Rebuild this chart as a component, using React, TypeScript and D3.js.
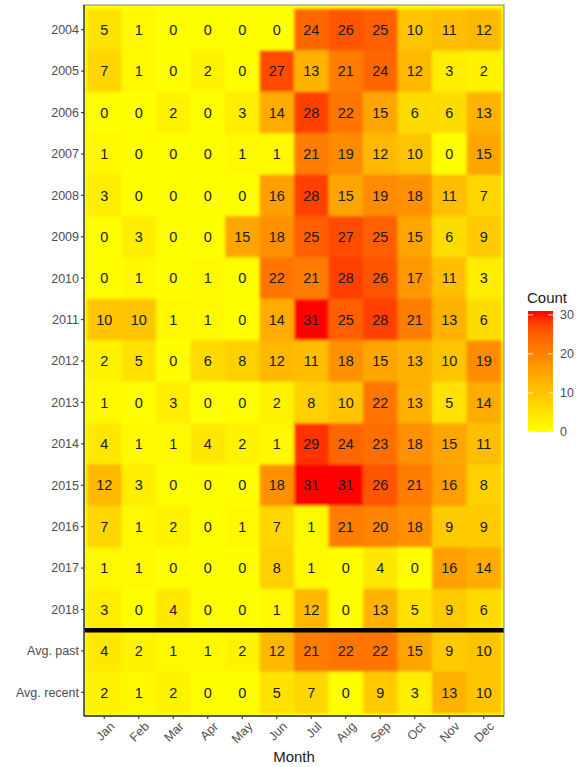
import React from "react";
import * as d3 from "d3";

const months = ["Jan", "Feb", "Mar", "Apr", "May", "Jun", "Jul", "Aug", "Sep", "Oct", "Nov", "Dec"];
const rowLabels = ["2004", "2005", "2006", "2007", "2008", "2009", "2010", "2011", "2012", "2013", "2014", "2015", "2016", "2017", "2018", "Avg. past", "Avg. recent"];
const r2004 = [5, 1, 0, 0, 0, 0, 24, 26, 25, 10, 11, 12];
const r2005 = [7, 1, 0, 2, 0, 27, 13, 21, 24, 12, 3, 2];
const r2006 = [0, 0, 2, 0, 3, 14, 28, 22, 15, 6, 6, 13];
const r2007 = [1, 0, 0, 0, 1, 1, 21, 19, 12, 10, 0, 15];
const r2008 = [3, 0, 0, 0, 0, 16, 28, 15, 19, 18, 11, 7];
const r2009 = [0, 3, 0, 0, 15, 18, 25, 27, 25, 15, 6, 9];
const r2010 = [0, 1, 0, 1, 0, 22, 21, 28, 26, 17, 11, 3];
const r2011 = [10, 10, 1, 1, 0, 14, 31, 25, 28, 21, 13, 6];
const r2012 = [2, 5, 0, 6, 8, 12, 11, 18, 15, 13, 10, 19];
const r2013 = [1, 0, 3, 0, 0, 2, 8, 10, 22, 13, 5, 14];
const r2014 = [4, 1, 1, 4, 2, 1, 29, 24, 23, 18, 15, 11];
const r2015 = [12, 3, 0, 0, 0, 18, 31, 31, 26, 21, 16, 8];
const r2016 = [7, 1, 2, 0, 1, 7, 1, 21, 20, 18, 9, 9];
const r2017 = [1, 1, 0, 0, 0, 8, 1, 0, 4, 0, 16, 14];
const r2018 = [3, 0, 4, 0, 0, 1, 12, 0, 13, 5, 9, 6];
const avgPast = [4, 2, 1, 1, 2, 12, 21, 22, 22, 15, 9, 10];
const avgRecent = [2, 1, 2, 0, 0, 5, 7, 0, 9, 3, 13, 10];
const rows = [r2004, r2005, r2006, r2007, r2008, r2009, r2010, r2011, r2012, r2013, r2014, r2015, r2016, r2017, r2018, avgPast, avgRecent];
const legendTicks = [0, 10, 20, 30];

const W = 578, H = 767;
const panel = { x0: 84, x1: 504, y0: 5, y1: 716 };
const font = "Arial, 'Liberation Sans', Helvetica, sans-serif";

export default function App() {
  const x = d3.scaleBand<string>().domain(months).range([87, 501]);
  const y = d3.scaleBand<string>().domain(rowLabels).range([9, 713]);
  const color = d3.scaleSequential(d3.interpolateLab("#FFFF00", "#FF0000")).domain([0, 31]);
  const leg = d3.scaleLinear().domain([0, 31]).range([432, 311]);
  const gradStops = d3.range(0, 1.0001, 0.1);
  const sepY = y("Avg. past")!;

  return (
    <svg width={W} height={H} style={{ position: "absolute", left: 0, top: 0, background: "#fff" }} fontFamily={font}>
      <defs>
        <linearGradient id="lg" x1="0" y1="1" x2="0" y2="0">
          {gradStops.map((t) => (
            <stop key={t} offset={t} stopColor={color(t * 31)} />
          ))}
        </linearGradient>
        <filter id="soft" x="-5%" y="-5%" width="110%" height="110%">
          <feGaussianBlur stdDeviation="1.4" />
        </filter>
        <clipPath id="pc">
          <rect x={panel.x0} y={panel.y0} width={panel.x1 - panel.x0} height={panel.y1 - panel.y0} />
        </clipPath>
      </defs>
      <rect x={panel.x0} y={panel.y0} width={panel.x1 - panel.x0} height={panel.y1 - panel.y0} fill="#FFFF00" />
      <g clipPath="url(#pc)">
        <g filter="url(#soft)">
          {rows.map((vals, ri) =>
            vals.map((v, ci) => (
              <rect key={`${ri}-${ci}`} x={x(months[ci])} y={y(rowLabels[ri])} width={x.bandwidth() + 0.5} height={y.bandwidth() + 0.5} fill={color(v)} />
            ))
          )}
        </g>
      </g>
      {rows.map((vals, ri) =>
        vals.map((v, ci) => (
          <text key={`t${ri}-${ci}`} x={x(months[ci])! + x.bandwidth() / 2} y={y(rowLabels[ri])! + y.bandwidth() / 2} dy="0.36em" textAnchor="middle" fontSize={14.5} fill="#1a1a1a">
            {v}
          </text>
        ))
      )}
      <line x1={panel.x0} x2={panel.x1} y1={sepY} y2={sepY} stroke="#000" strokeWidth={4.5} />
      <rect x={panel.x0} y={panel.y0} width={panel.x1 - panel.x0} height={panel.y1 - panel.y0} fill="none" stroke="#7f8590" strokeWidth={1} />
      <line x1={panel.x0} x2={panel.x0} y1={panel.y0} y2={panel.y1} stroke="#2b3440" strokeWidth={1.3} />
      <line x1={panel.x0} x2={panel.x1} y1={panel.y1} y2={panel.y1} stroke="#2b3440" strokeWidth={1.3} />
      {rowLabels.map((r) => {
        const cy = y(r)! + y.bandwidth() / 2;
        return (
          <g key={r}>
            <line x1={panel.x0 - 3} x2={panel.x0} y1={cy} y2={cy} stroke="#333" strokeWidth={1.1} />
            <text x={panel.x0 - 5} y={cy} dy="0.35em" textAnchor="end" fontSize={12.5} fill="#4d4d4d">
              {r}
            </text>
          </g>
        );
      })}
      {months.map((m) => {
        const cx = x(m)! + x.bandwidth() / 2;
        return (
          <g key={m}>
            <line x1={cx} x2={cx} y1={panel.y1} y2={panel.y1 + 3} stroke="#333" strokeWidth={1.1} />
            <text transform={`translate(${cx + 5},${panel.y1 + 5}) rotate(-45)`} textAnchor="end" dy="0.7em" fontSize={12.5} fill="#4d4d4d">
              {m}
            </text>
          </g>
        );
      })}
      <text x={(panel.x0 + panel.x1) / 2} y={762} textAnchor="middle" fontSize={15} fill="#1a1a1a">
        Month
      </text>
      <text x={527} y={303} fontSize={15} fill="#1a1a1a">
        Count
      </text>
      <rect x={528} y={311} width={25} height={121} fill="url(#lg)" />
      {legendTicks.map((t) => (
        <g key={t}>
          <line x1={528} x2={533} y1={leg(t)} y2={leg(t)} stroke="#fff" strokeWidth={0.8} />
          <line x1={548} x2={553} y1={leg(t)} y2={leg(t)} stroke="#fff" strokeWidth={0.8} />
          <text x={560} y={leg(t)} dy="0.35em" fontSize={12.5} fill="#4d4d4d">
            {t}
          </text>
        </g>
      ))}
    </svg>
  );
}
